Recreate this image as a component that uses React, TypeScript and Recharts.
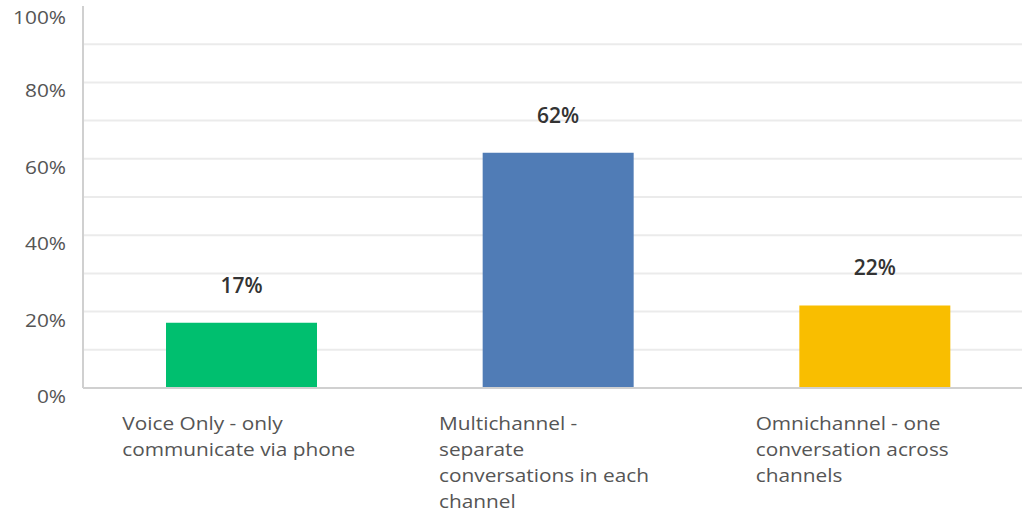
import React from 'react'
import { BarChart, Bar, XAxis, YAxis, CartesianGrid, LabelList, Cell } from 'recharts'

// survey answers, share of respondents (%)
const categories = ['Voice Only', 'Multichannel', 'Omnichannel']
const categoryLines = [
  ['Voice Only - only', 'communicate via phone'],
  ['Multichannel -', 'separate', 'conversations in each', 'channel'],
  ['Omnichannel - one', 'conversation across', 'channels'],
]
const shares = [17.1, 61.6, 21.6]
const barColors = ['#00bf6f', '#507cb6', '#f9be00']
const yTicks = [0, 20, 40, 60, 80, 100]
const gridValues = [10, 20, 30, 40, 50, 60, 70, 80, 90]

const FONT = '"Open Sans", sans-serif'
// the source image is a bit wider than tall, so axis text is stretched sideways
const STRETCH = 1.19

const data = categories.map((name, i) => ({ name, share: shares[i] }))

const YTick = ({ x, y, payload }: any) => (
  <text
    transform={`translate(${x},${y + 15}) scale(${STRETCH},1)`}
    textAnchor="end"
    fill="#555"
    fontSize={17.5}
    fontFamily={FONT}
  >
    {`${payload.value}%`}
  </text>
)

const XTick = ({ x, y, index }: any) => {
  const lines = categoryLines[index] || []
  return (
    <text transform={`translate(${x - 119},${y}) scale(${STRETCH},1)`} fill="#555" fontSize={17.5} fontFamily={FONT}>
      {lines.map((l, i) => (
        <tspan key={i} x={0} dy={i === 0 ? 34 : 26}>
          {l}
        </tspan>
      ))}
    </text>
  )
}

export default function App() {
  return (
    <div style={{ position: 'fixed', left: 0, top: 0, width: 1022, height: 513, overflow: 'hidden', background: '#fff' }}>
      <BarChart width={1040} height={513} data={data} margin={{ top: 6, right: 7, left: 0, bottom: 0 }}>
        <CartesianGrid vertical={false} horizontalValues={gridValues} stroke="#ebebeb" strokeWidth={2} />
        <XAxis
          dataKey="name"
          tickLine={false}
          axisLine={{ stroke: '#d0d0d0', strokeWidth: 2 }}
          tick={<XTick />}
          height={125}
          interval={0}
        />
        <YAxis
          domain={[0, 100]}
          ticks={yTicks}
          tickLine={false}
          axisLine={{ stroke: '#d0d0d0', strokeWidth: 2 }}
          tick={<YTick />}
          tickMargin={11}
          width={83}
        />
        <Bar dataKey="share" barSize={151} isAnimationActive={false}>
          {data.map((d, i) => (
            <Cell key={d.name} fill={barColors[i]} />
          ))}
          <LabelList
            dataKey="share"
            position="top"
            offset={30}
            formatter={(v: any) => `${Math.round(v)}%`}
            fill="#333"
            fontSize={21}
            fontWeight={600}
            fontFamily={FONT}
          />
        </Bar>
      </BarChart>
    </div>
  )
}
